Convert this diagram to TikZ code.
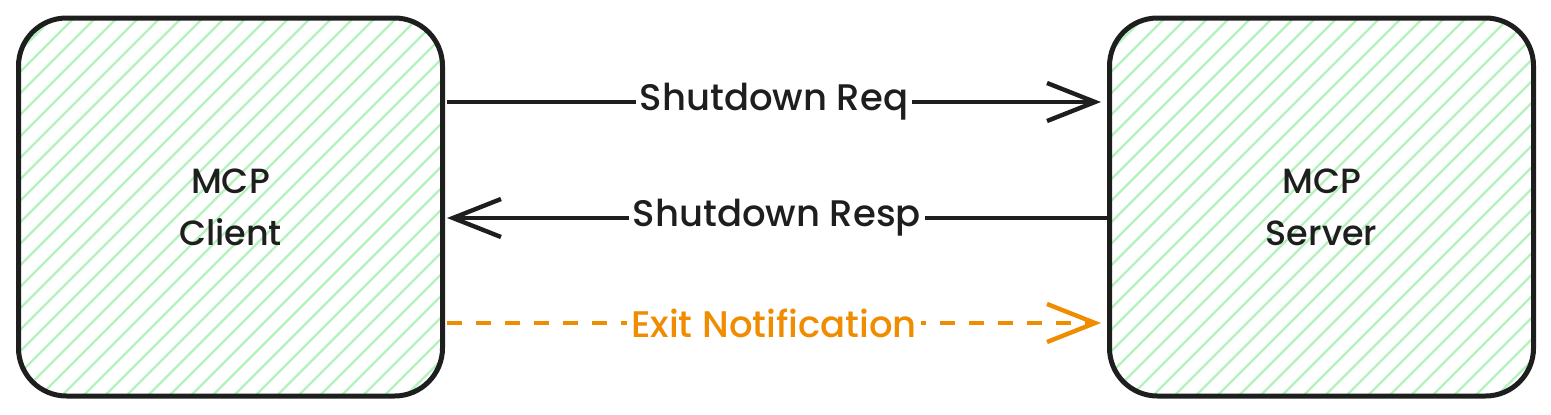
\documentclass[tikz,border=0pt]{standalone}
\usepackage{fontspec}
\setmainfont{Poppins}[UprightFont=* Medium]
\usetikzlibrary{arrows.meta,calc,positioning}
\definecolor{SketchInk}{HTML}{1E1E1E}
\definecolor{SketchGreen}{HTML}{B2F2BB}
\definecolor{SketchOrange}{HTML}{F08C00}
\tikzset{
  every node/.style={text=SketchInk},
  party/.style={draw=SketchInk, line width=2.5pt, rounded corners=24pt,
    minimum width=212pt, minimum height=189pt, align=center,
    font=\fontsize{17.5}{26}\selectfont,
    path picture={
      \foreach \k in {-30,...,30}
        \draw[SketchGreen, line width=1.1pt]
          ($(path picture bounding box.south west)+(\k*21.5,0)$) -- ++(420,420);
    }},
  message/.style={-{Straight Barb[length=24pt,width=19pt,line width=2.2pt]},
    draw=SketchInk, line width=2.2pt},
  notice/.style={message, draw=SketchOrange, dash pattern=on 7.5pt off 7pt},
  msglabel/.style={fill=white, inner sep=2pt, font=\fontsize{18.5}{20}\selectfont},
}
\begin{document}
\begin{tikzpicture}[x=0.5pt,y=0.5pt]
  \useasboundingbox (0,0) rectangle (1551,414);

  % The two parties
  \node[party] (client) at (230.5,207) {MCP\\Client};
  \node[party] (server) at (1321.5,207) {MCP\\Server};

  % Shutdown exchange
  \draw[message] ($(client.east)+(2,105)$) --
    node[msglabel] {Shutdown Req} ($(server.west)+(-6,105)$);
  \draw[message] ($(server.west)+(0,-11)$) --
    node[msglabel] {Shutdown Resp} ($(client.east)+(2,-11)$);

  % Closing notice
  \draw[notice] ($(client.east)+(2,-116)$) --
    node[msglabel, text=SketchOrange] {Exit Notification} ($(server.west)+(-6,-116)$);
\end{tikzpicture}
\end{document}
